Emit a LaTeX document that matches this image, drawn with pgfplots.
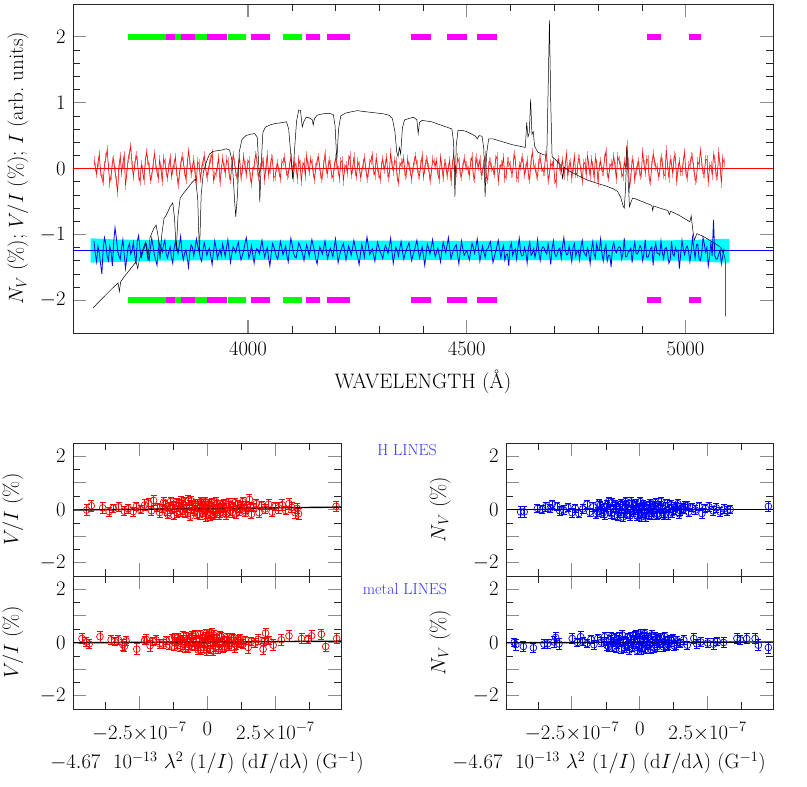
\documentclass[border=0pt]{standalone}
\usepackage{pgfplots}
\pgfplotsset{compat=1.18}
\usepackage{pgfplotstable}
\definecolor{pinkish}{rgb}{1,0.55,0.55}
\definecolor{myblue}{rgb}{0,0,0.95}
\definecolor{mycyan}{rgb}{0,1,1}
\definecolor{mygreen}{rgb}{0,1,0}
\definecolor{mymag}{rgb}{1,0,1}
\definecolor{txtblue}{rgb}{0.2,0.2,1}

\pgfplotstableread{
lam v n
3648 0.12 -1.10
3651 0.02 -1.30
3654 -0.08 -1.42
3657 0.09 -1.18
3660 0.21 -1.28
3663 -0.04 -1.45
3666 -0.15 -1.60
3669 -0.20 -1.22
3672 0.05 -1.05
3675 0.16 -1.15
3678 0.28 -1.33
3681 0.03 -1.40
3684 -0.22 -1.18
3687 -0.10 -1.27
3690 0.10 -1.48
3693 0.14 -1.12
3696 -0.05 -0.90
3699 -0.19 -1.05
3702 -0.36 -1.25
3705 0.05 -1.33
3708 0.18 -1.38
3711 -0.06 -1.20
3714 0.08 -1.08
3717 0.20 -1.30
3720 -0.25 -1.52
3723 -0.08 -1.36
3726 0.15 -1.20
3729 0.22 -1.14
3732 0.34 -1.30
3735 0.05 -1.25
3738 -0.12 -1.12
3741 0.04 -1.31
3744 0.20 -1.45
3747 0.12 -1.10
3750 -0.10 -1.02
3753 -0.20 -1.22
3756 0.06 -1.35
3759 -0.02 -1.28
3762 -0.18 -1.22
3765 0.10 -1.17
3768 0.24 -1.15
3771 0.13 -1.33
3774 0.02 -1.40
3777 -0.17 -1.21
3780 -0.12 -1.06
3783 0.06 -1.18
3786 0.22 -1.31
3789 0.08 -1.39
3792 -0.06 -1.47
3795 -0.15 -1.24
3798 0.14 -1.14
3801 -0.02 -1.20
3804 -0.20 -1.27
3807 0.15 -1.16
3810 0.09 -1.09
3813 -0.06 -1.30
3816 -0.14 -1.36
3819 0.02 -1.26
3822 0.17 -1.19
3825 -0.11 -1.35
3828 -0.03 -1.44
3831 0.08 -1.22
3834 0.17 -1.11
3837 -0.05 -1.18
3840 -0.24 -1.29
3843 -0.10 -1.17
3846 0.04 -1.03
3849 0.18 -1.26
3852 0.11 -1.39
3855 -0.04 -1.29
3858 -0.16 -1.24
3861 0.07 -1.35
3864 0.26 -1.50
3867 0.12 -1.28
3870 -0.08 -1.16
3873 0.01 -1.20
3876 0.13 -1.33
3879 -0.08 -1.21
3882 -0.19 -1.07
3885 0.10 -1.18
3888 0.07 -1.26
3891 -0.15 -1.36
3894 -0.02 -1.41
3897 0.11 -1.24
3900 0.19 -1.13
3903 0.03 -1.22
3906 -0.13 -1.32
3909 -0.03 -1.25
3912 0.08 -1.21
3915 0.14 -1.34
3918 0.23 -1.46
3921 -0.17 -1.27
3924 -0.11 -1.10
3927 -0.06 -1.21
3930 0.03 -1.37
3933 0.16 -1.29
3936 -0.21 -1.23
3939 -0.01 -1.33
3942 0.15 -1.15
3945 0.02 -1.24
3948 -0.07 -1.34
3951 0.13 -1.20
3954 0.10 -1.08
3957 -0.10 -1.26
3960 -0.17 -1.43
3963 0.05 -1.30
3966 0.20 -1.19
3969 0.09 -1.23
3972 -0.04 -1.28
3975 -0.16 -1.18
3978 0.06 -1.12
3981 0.15 -1.28
3984 -0.14 -1.39
3987 -0.02 -1.32
3990 0.18 -1.25
3993 0.04 -1.14
3996 -0.09 -1.05
3999 0.08 -1.20
4002 0.12 -1.36
4005 -0.13 -1.29
4008 -0.22 -1.17
4011 -0.04 -1.31
4014 0.05 -1.44
4017 0.20 -1.28
4020 0.16 -1.22
4023 -0.12 -1.24
4026 -0.06 -1.30
4029 0.01 -1.19
4032 0.09 -1.09
4035 0.11 -1.23
4038 -0.18 -1.35
4041 0.03 -1.27
4044 0.21 -1.20
4047 -0.09 -1.36
4050 -0.01 -1.48
4053 0.15 -1.30
4056 0.13 -1.14
4059 -0.14 -1.19
4062 -0.12 -1.27
4065 0.02 -1.34
4068 0.07 -1.38
4071 -0.06 -1.24
4074 -0.15 -1.11
4077 0.08 -1.20
4080 0.11 -1.31
4083 0.16 -1.25
4086 0.04 -1.18
4089 -0.11 -1.33
4092 -0.08 -1.42
4095 0.05 -1.22
4098 0.17 -1.06
4101 -0.02 -1.16
4104 -0.13 -1.29
4107 0.10 -1.34
4110 0.02 -1.36
4113 -0.16 -1.24
4116 0.14 -1.13
4119 0.06 -1.18
4122 -0.20 -1.24
4125 0.03 -1.31
4128 0.09 -1.40
4131 -0.12 -1.27
4134 0.19 -1.16
4137 0.05 -1.23
4140 -0.05 -1.33
4143 0.14 -1.20
4146 0.08 -1.08
4149 -0.07 -1.17
4152 -0.16 -1.26
4155 0.01 -1.38
4158 0.12 -1.45
4161 0.17 -1.30
4164 0.03 -1.19
4167 -0.15 -1.24
4170 -0.11 -1.30
4173 0.06 -1.20
4176 0.22 -1.10
4179 -0.02 -1.25
4182 -0.07 -1.37
4185 0.12 -1.28
4188 0.06 -1.21
4191 -0.09 -1.27
4194 -0.14 -1.34
4197 0.03 -1.20
4200 0.15 -1.07
4203 0.08 -1.25
4206 -0.03 -1.43
4209 -0.15 -1.33
4212 0.10 -1.25
4215 0.12 -1.19
4218 -0.19 -1.14
4221 0.00 -1.26
4224 0.05 -1.39
4227 -0.06 -1.28
4230 0.13 -1.18
4233 0.19 -1.24
4236 -0.09 -1.32
4239 -0.01 -1.21
4242 0.18 -1.09
4245 -0.04 -1.19
4248 -0.12 -1.28
4251 0.10 -1.36
4254 0.04 -1.46
4257 -0.13 -1.30
4260 -0.06 -1.15
4263 0.07 -1.24
4266 0.16 -1.35
4269 0.02 -1.18
4272 -0.15 -1.04
4275 -0.06 -1.17
4278 0.08 -1.31
4281 0.13 -1.27
4284 0.20 -1.22
4287 -0.03 -1.32
4290 -0.10 -1.41
4293 0.17 -1.26
4296 0.01 -1.12
4299 -0.08 -1.19
4302 -0.17 -1.27
4305 0.05 -1.31
4308 0.14 -1.37
4311 -0.02 -1.26
4314 0.07 -1.17
4317 0.16 -1.22
4320 -0.13 -1.29
4323 -0.07 -1.18
4326 0.24 -1.06
4329 0.05 -1.26
4332 -0.04 -1.44
4335 0.12 -1.31
4338 0.11 -1.20
4341 -0.14 -1.25
4344 -0.21 -1.33
4347 0.03 -1.21
4350 0.09 -1.11
4353 0.08 -1.25
4356 0.15 -1.38
4359 -0.11 -1.30
4362 -0.08 -1.24
4365 0.14 -1.18
4368 0.03 -1.13
4371 -0.05 -1.26
4374 -0.16 -1.40
4377 0.02 -1.32
4380 0.12 -1.26
4383 0.18 -1.17
4386 0.06 -1.09
4389 -0.09 -1.23
4392 -0.11 -1.36
4395 0.06 -1.28
4398 0.19 -1.19
4401 -0.12 -1.33
4404 -0.02 -1.47
4407 0.14 -1.30
4410 0.10 -1.15
4413 0.01 -1.22
4416 -0.18 -1.30
4419 -0.05 -1.19
4422 0.13 -1.08
4425 0.09 -1.24
4428 0.05 -1.34
4431 0.11 -1.27
4434 -0.09 -1.21
4437 -0.16 -1.31
4440 0.17 -1.42
4443 0.04 -1.26
4446 -0.14 -1.12
4449 0.07 -1.20
4452 0.08 -1.28
4455 -0.11 -1.17
4458 0.02 -1.05
4461 0.12 -1.22
4464 -0.19 -1.37
4467 0.06 -1.30
4470 0.22 -1.23
4473 -0.03 -1.19
4476 -0.06 -1.16
4479 0.16 -1.32
4482 0.11 -1.45
4485 -0.08 -1.27
4488 -0.12 -1.10
4491 0.02 -1.22
4494 0.15 -1.32
4497 0.05 -1.28
4500 0.04 -1.25
4503 -0.03 -1.32
4506 -0.10 -1.39
4509 0.09 -1.26
4512 0.18 -1.14
4515 -0.12 -1.20
4518 -0.15 -1.29
4521 0.16 -1.18
4524 0.07 -1.07
4527 0.03 -1.24
4530 0.13 -1.41
4533 -0.10 -1.29
4536 -0.05 -1.18
4539 0.06 -1.27
4542 0.20 -1.35
4545 -0.14 -1.23
4548 -0.17 -1.22
4551 0.11 -1.16
4554 0.09 -1.11
4557 0.02 -1.27
4560 -0.03 -1.43
4563 -0.08 -1.34
4566 0.14 -1.27
4569 0.18 -1.18
4572 -0.20 -1.09
4575 -0.02 -1.23
4578 0.06 -1.36
4581 0.04 -1.24
4584 0.16 -1.17
4587 -0.15 -1.39
4590 -0.11 -1.31
4593 0.10 -1.30
4596 0.10 -1.48
4599 0.04 -1.20
4602 -0.07 -1.13
4605 -0.06 -1.32
4608 0.21 -1.26
4611 0.12 -1.22
4614 -0.13 -1.38
4617 -0.15 -1.20
4620 0.05 -1.06
4623 0.03 -1.27
4626 0.17 -1.33
4629 0.08 -1.32
4632 -0.09 -1.20
4635 0.00 -1.28
4638 0.12 -1.44
4641 -0.10 -1.21
4644 -0.16 -1.12
4647 0.13 -1.32
4650 0.24 -1.29
4653 0.06 -1.22
4656 0.01 -1.35
4659 -0.09 -1.25
4662 -0.12 -1.08
4665 0.14 -1.29
4668 0.15 -1.40
4671 0.02 -1.23
4674 -0.04 -1.19
4677 -0.05 -1.21
4680 0.19 -1.27
4683 0.17 -1.30
4686 -0.18 -1.15
4689 -0.07 -1.28
4692 0.08 -1.46
4695 0.04 -1.22
4698 0.11 -1.10
4701 -0.16 -1.29
4704 -0.22 -1.34
4707 0.08 -1.30
4710 0.14 -1.23
4713 -0.03 -1.21
4716 0.03 -1.37
4719 0.12 -1.18
4722 -0.10 -1.05
4725 0.05 -1.24
4728 0.23 -1.31
4731 -0.12 -1.30
4734 0.06 -1.18
4737 0.09 -1.28
4740 -0.15 -1.42
4743 0.02 -1.20
4746 0.18 -1.14
4749 -0.08 -1.33
4752 -0.07 -1.26
4755 0.15 -1.24
4758 0.13 -1.39
4761 -0.05 -1.19
4764 -0.19 -1.09
4767 0.07 -1.26
4770 0.09 -1.30
4773 -0.10 -1.33
4776 0.20 -1.21
4779 0.05 -1.28
4782 -0.12 -1.45
4785 0.13 -1.23
4788 0.04 -1.11
4791 -0.14 -1.30
4794 0.16 -1.36
4797 0.08 -1.15
4800 -0.21 -1.24
4803 0.03 -1.24
4806 0.11 -1.07
4809 -0.04 -1.29
4812 -0.05 -1.41
4815 0.15 -1.24
4818 0.25 -1.16
4821 -0.07 -1.41
4824 -0.14 -1.32
4827 0.02 -1.32
4830 0.07 -1.50
4833 0.05 -1.20
4836 0.18 -1.13
4839 0.03 -1.24
4842 -0.16 -1.28
4845 0.18 -1.22
4848 0.12 -1.19
4851 0.05 -1.20
4854 -0.08 -1.38
4857 -0.12 -1.30
4860 0.10 -1.06
4863 0.02 -1.34
4866 0.36 -1.34
4869 0.09 -1.27
4872 -0.30 -1.25
4875 -0.14 -1.21
4878 0.14 -1.43
4881 0.07 -1.24
4884 -0.17 -1.12
4887 -0.03 -1.29
4890 0.05 -1.30
4893 0.10 -1.25
4896 -0.11 -1.17
4899 -0.08 -1.21
4902 0.26 -1.40
4905 0.06 -1.28
4908 -0.06 -1.08
4911 0.14 -1.34
4914 0.13 -1.35
4917 -0.16 -1.30
4920 -0.19 -1.22
4923 0.04 -1.19
4926 0.22 -1.47
4929 0.11 -1.23
4932 0.03 -1.14
4935 0.02 -1.29
4938 -0.12 -1.29
4941 -0.06 -1.32
4944 0.17 -1.10
4947 0.09 -1.27
4950 -0.09 -1.37
4953 -0.11 -1.22
4956 0.28 -1.20
4959 0.05 -1.30
4962 -0.15 -1.44
4965 0.13 -1.39
4968 0.08 -1.11
4971 -0.08 -1.30
4974 0.19 -1.33
4977 0.16 -1.20
4980 -0.20 -1.26
4983 0.01 -1.24
4986 0.11 -1.52
4989 -0.05 -1.30
4992 -0.04 -1.09
4995 0.12 -1.23
4998 0.24 -1.31
5001 -0.09 -1.21
5004 -0.13 -1.18
5007 0.04 -1.26
5010 0.06 -1.42
5013 0.18 -1.27
5016 0.16 -1.05
5019 0.02 -1.22
5022 -0.18 -1.36
5025 -0.15 -1.16
5028 0.10 -1.15
5031 0.06 -1.37
5034 0.27 -1.40
5037 0.11 -1.30
5040 -0.08 -1.05
5043 -0.07 -1.15
5046 0.14 -1.27
5049 0.14 -1.20
5052 -0.21 -1.48
5055 0.03 -1.34
5058 0.05 -1.12
5061 -0.10 -1.33
5064 0.20 -0.78
5067 0.15 -1.33
5070 -0.12 -1.38
5073 -0.10 -1.37
5076 0.25 -1.30
5079 0.03 -1.24
5082 -0.22 -1.45
5085 0.15 -1.33
5088 0.09 -1.22
}\noise

\pgfplotstableread{
x y e
-4.43 -0.02 0.2
-4.26 0.14 0.2
-3.84 0.06 0.2
-3.60 -0.08 0.16
-3.45 0.05 0.16
-3.25 0.10 0.16
-3.05 -0.06 0.16
-2.90 0.03 0.16
-2.72 -0.08 0.16
-2.60 0.12 0.16
-2.45 0.00 0.16
-2.30 0.17 0.2
-2.15 0.22 0.2
-2.05 -0.05 0.16
-1.97 0.34 0.2
-1.85 0.08 0.16
-1.75 -0.12 0.16
-1.65 0.05 0.16
-1.60 0.28 0.16
-1.55 0.20 0.16
-1.48 -0.05 0.16
-1.45 -0.18 0.16
-1.38 0.12 0.16
-1.35 0.30 0.16
-1.30 0.02 0.16
-1.25 0.15 0.16
-1.22 -0.22 0.16
-1.15 0.26 0.16
-1.12 -0.12 0.16
-1.08 0.10 0.16
-1.02 0.22 0.16
-1.00 -0.08 0.16
-0.95 0.32 0.16
-0.92 -0.02 0.16
-0.88 0.18 0.16
-0.82 -0.15 0.16
-0.80 0.30 0.16
-0.75 0.05 0.16
-0.72 -0.10 0.16
-0.70 0.36 0.16
-0.65 0.18 0.16
-0.62 -0.25 0.16
-0.58 0.32 0.16
-0.55 0.14 0.16
-0.50 0.00 0.16
-0.46 -0.06 0.16
-0.42 0.24 0.16
-0.38 0.16 0.16
-0.36 -0.18 0.16
-0.30 0.08 0.16
-0.28 -0.20 0.16
-0.24 0.30 0.16
-0.20 0.24 0.16
-0.18 -0.10 0.16
-0.14 0.02 0.16
-0.12 0.16 0.16
-0.08 0.30 0.16
-0.06 -0.28 0.16
-0.02 -0.16 0.16
0.00 0.05 0.16
0.04 0.14 0.16
0.06 0.22 0.16
0.10 -0.24 0.16
0.12 -0.14 0.16
0.16 0.26 0.16
0.18 0.10 0.16
0.22 0.00 0.16
0.25 -0.22 0.16
0.28 -0.12 0.16
0.32 0.28 0.16
0.36 0.18 0.16
0.40 0.02 0.16
0.44 -0.20 0.16
0.48 -0.12 0.16
0.52 0.08 0.16
0.55 0.18 0.16
0.60 0.24 0.16
0.62 0.06 0.16
0.68 -0.08 0.16
0.70 -0.20 0.16
0.78 0.25 0.16
0.82 0.14 0.16
0.86 -0.05 0.16
0.92 -0.12 0.16
0.95 0.12 0.16
1.02 0.26 0.16
1.05 -0.16 0.16
1.12 0.20 0.16
1.16 -0.06 0.16
1.20 0.04 0.16
1.26 0.16 0.16
1.30 0.30 0.16
1.38 -0.10 0.16
1.42 0.02 0.16
1.45 0.14 0.16
1.55 0.38 0.2
1.58 0.10 0.16
1.62 -0.18 0.16
1.70 0.08 0.16
1.80 0.22 0.16
1.90 -0.12 0.16
2.00 0.16 0.16
2.12 0.02 0.16
2.25 0.20 0.2
2.38 -0.10 0.16
2.50 0.12 0.16
2.62 0.06 0.2
2.75 0.18 0.2
2.88 -0.04 0.16
3.00 0.22 0.2
3.10 0.08 0.2
3.22 -0.12 0.2
3.30 0.04 0.2
3.35 -0.16 0.2
4.73 0.12 0.2
}\VIH

\pgfplotstableread{
x y e
-4.60 0.15 0.2
-4.45 0.02 0.16
-4.34 -0.06 0.16
-3.94 0.22 0.2
-3.53 0.10 0.16
-3.40 0.04 0.16
-3.26 0.10 0.16
-3.10 -0.08 0.2
-3.04 -0.14 0.2
-2.98 0.06 0.16
-2.59 -0.25 0.2
-2.30 0.08 0.16
-2.24 0.12 0.2
-2.10 -0.12 0.2
-2.00 0.05 0.16
-1.88 0.10 0.16
-1.75 -0.05 0.16
-1.63 -0.06 0.16
-1.50 0.08 0.16
-1.40 -0.10 0.16
-1.30 0.14 0.16
-1.22 -0.14 0.16
-1.20 0.20 0.16
-1.15 0.05 0.16
-1.10 -0.06 0.16
-1.08 0.18 0.16
-1.00 -0.18 0.16
-0.98 0.08 0.16
-0.92 0.10 0.16
-0.88 0.26 0.16
-0.85 -0.08 0.16
-0.80 -0.22 0.16
-0.78 0.22 0.16
-0.72 0.12 0.16
-0.70 -0.22 0.16
-0.64 -0.10 0.16
-0.62 0.04 0.16
-0.58 0.18 0.16
-0.55 0.26 0.16
-0.50 0.02 0.16
-0.48 -0.15 0.16
-0.44 0.30 0.16
-0.40 0.12 0.16
-0.36 -0.12 0.16
-0.34 -0.28 0.16
-0.30 0.10 0.16
-0.27 0.30 0.16
-0.24 -0.30 0.16
-0.20 0.00 0.16
-0.17 0.16 0.16
-0.14 -0.20 0.16
-0.10 -0.04 0.16
-0.08 0.24 0.16
-0.05 0.34 0.16
-0.02 -0.32 0.16
0.00 -0.20 0.16
0.03 0.12 0.16
0.05 0.22 0.16
0.08 0.32 0.16
0.11 -0.06 0.16
0.13 -0.25 0.16
0.16 0.36 0.16
0.18 0.06 0.16
0.21 -0.32 0.16
0.24 0.28 0.16
0.27 0.14 0.16
0.30 -0.18 0.16
0.33 0.02 0.16
0.36 0.16 0.16
0.40 -0.24 0.16
0.43 -0.08 0.16
0.46 0.26 0.16
0.50 0.22 0.16
0.54 0.00 0.16
0.57 -0.22 0.16
0.62 -0.16 0.16
0.64 0.08 0.16
0.70 0.06 0.16
0.72 0.18 0.16
0.78 -0.06 0.16
0.80 -0.14 0.16
0.88 0.02 0.16
0.90 0.20 0.16
0.96 0.15 0.16
1.00 -0.20 0.16
1.05 -0.10 0.16
1.10 0.02 0.16
1.15 0.10 0.16
1.20 0.14 0.16
1.25 -0.04 0.16
1.31 -0.06 0.16
1.40 0.08 0.16
1.50 -0.19 0.2
1.62 0.05 0.16
1.75 -0.02 0.16
1.86 0.12 0.2
2.05 -0.25 0.2
2.10 0.05 0.16
2.14 0.35 0.2
2.25 0.08 0.16
2.42 -0.10 0.2
2.72 0.10 0.2
3.00 0.25 0.2
3.46 0.15 0.2
3.70 0.12 0.16
3.83 0.25 0.2
4.19 0.31 0.2
4.35 -0.15 0.2
4.75 0.15 0.2
}\VIM

\pgfplotstableread{
x y e
-4.39 -0.09 0.2
-4.26 -0.09 0.2
-3.77 0.04 0.16
-3.60 0.00 0.16
-3.47 0.10 0.16
-3.30 0.05 0.16
-3.23 0.20 0.16
-3.05 0.12 0.16
-2.95 -0.05 0.16
-2.80 -0.02 0.16
-2.65 0.08 0.16
-2.50 -0.12 0.16
-2.38 0.05 0.16
-2.25 -0.15 0.16
-2.10 0.02 0.16
-1.95 0.20 0.16
-1.85 -0.10 0.16
-1.72 0.10 0.16
-1.60 -0.18 0.16
-1.55 -0.08 0.16
-1.50 0.24 0.16
-1.45 0.16 0.16
-1.40 0.02 0.16
-1.35 -0.12 0.16
-1.30 -0.20 0.16
-1.25 0.08 0.16
-1.20 0.18 0.16
-1.15 0.30 0.16
-1.10 -0.05 0.16
-1.05 -0.16 0.16
-1.02 0.26 0.16
-0.98 0.04 0.16
-0.94 -0.22 0.16
-0.90 0.20 0.16
-0.86 0.10 0.16
-0.82 -0.26 0.16
-0.78 -0.12 0.16
-0.74 0.02 0.16
-0.70 0.22 0.16
-0.66 0.14 0.16
-0.62 -0.28 0.16
-0.58 -0.14 0.16
-0.55 0.05 0.16
-0.52 0.30 0.16
-0.48 0.18 0.16
-0.44 0.00 0.16
-0.40 -0.16 0.16
-0.36 -0.24 0.16
-0.32 0.28 0.16
-0.28 0.18 0.16
-0.25 -0.08 0.16
-0.21 -0.02 0.16
-0.18 0.14 0.16
-0.14 0.24 0.16
-0.10 -0.25 0.16
-0.07 -0.18 0.16
-0.04 0.08 0.16
0.00 0.04 0.16
0.02 0.30 0.16
0.05 -0.28 0.16
0.08 -0.15 0.16
0.12 0.20 0.16
0.15 0.12 0.16
0.18 0.00 0.16
0.22 -0.28 0.16
0.26 -0.16 0.16
0.30 0.04 0.16
0.34 0.14 0.16
0.38 0.22 0.16
0.42 -0.22 0.16
0.46 -0.10 0.16
0.50 0.02 0.16
0.54 0.16 0.16
0.58 0.26 0.16
0.62 -0.22 0.16
0.66 -0.16 0.16
0.70 0.06 0.16
0.74 0.14 0.16
0.78 0.30 0.16
0.82 0.00 0.16
0.86 -0.12 0.16
0.90 -0.22 0.16
0.95 0.10 0.16
1.00 0.24 0.16
1.05 -0.20 0.16
1.10 0.04 0.16
1.15 0.18 0.16
1.20 -0.12 0.16
1.25 -0.04 0.16
1.30 0.10 0.16
1.35 0.12 0.16
1.40 0.22 0.16
1.45 -0.16 0.16
1.50 -0.06 0.16
1.55 0.06 0.16
1.62 0.02 0.16
1.68 0.16 0.16
1.75 0.14 0.16
1.80 -0.10 0.16
1.92 0.08 0.16
2.05 -0.02 0.16
2.18 0.12 0.16
2.29 -0.15 0.2
2.42 0.04 0.16
2.55 0.10 0.16
2.70 -0.05 0.16
2.82 0.06 0.16
2.96 -0.09 0.16
3.10 0.02 0.16
3.22 -0.06 0.16
3.33 0.00 0.16
4.74 0.12 0.2
}\NVH

\pgfplotstableread{
x y e
-4.63 0.00 0.16
-4.57 -0.08 0.2
-4.29 -0.15 0.2
-3.92 -0.20 0.16
-3.53 -0.06 0.16
-3.40 -0.05 0.16
-3.16 0.02 0.2
-3.10 0.19 0.2
-2.98 -0.05 0.2
-2.49 0.15 0.2
-2.30 0.00 0.16
-2.18 0.22 0.2
-2.10 0.05 0.16
-1.95 -0.04 0.16
-1.80 0.12 0.16
-1.69 -0.08 0.16
-1.55 0.15 0.16
-1.42 0.02 0.16
-1.30 0.22 0.16
-1.25 0.04 0.16
-1.20 -0.12 0.16
-1.15 -0.16 0.16
-1.10 0.10 0.16
-1.05 0.22 0.16
-1.00 -0.18 0.16
-0.96 0.02 0.16
-0.92 0.18 0.16
-0.88 -0.22 0.16
-0.84 -0.06 0.16
-0.80 0.12 0.16
-0.76 0.24 0.16
-0.72 0.00 0.16
-0.68 -0.24 0.16
-0.64 0.28 0.16
-0.60 0.08 0.16
-0.56 -0.20 0.16
-0.52 -0.14 0.16
-0.49 0.04 0.16
-0.45 0.20 0.16
-0.42 -0.10 0.16
-0.38 -0.28 0.16
-0.34 0.22 0.16
-0.30 0.12 0.16
-0.27 -0.18 0.16
-0.23 -0.06 0.16
-0.20 0.10 0.16
-0.16 0.26 0.16
-0.13 0.30 0.16
-0.09 -0.30 0.16
-0.06 -0.14 0.16
-0.03 0.08 0.16
0.00 0.20 0.16
0.03 0.32 0.16
0.06 -0.28 0.16
0.09 -0.18 0.16
0.12 0.06 0.16
0.15 0.22 0.16
0.18 0.34 0.16
0.22 -0.26 0.16
0.25 -0.10 0.16
0.29 0.10 0.16
0.32 0.20 0.16
0.36 -0.10 0.16
0.40 -0.26 0.16
0.44 0.28 0.16
0.48 0.06 0.16
0.52 -0.20 0.16
0.56 0.24 0.16
0.60 0.14 0.16
0.64 -0.16 0.16
0.68 -0.04 0.16
0.72 0.10 0.16
0.77 0.20 0.16
0.82 -0.04 0.16
0.86 -0.16 0.16
0.92 0.22 0.16
0.95 0.08 0.16
1.00 -0.14 0.16
1.05 -0.08 0.16
1.10 0.02 0.16
1.15 0.12 0.16
1.22 0.16 0.16
1.26 -0.12 0.16
1.34 -0.08 0.16
1.38 0.06 0.16
1.50 -0.04 0.16
1.62 0.10 0.16
1.75 -0.10 0.16
1.99 0.15 0.2
2.10 -0.05 0.16
2.25 0.02 0.16
2.50 -0.02 0.16
2.72 -0.06 0.2
2.85 0.05 0.16
3.09 0.00 0.2
3.58 0.15 0.2
3.70 0.10 0.16
3.94 0.15 0.2
4.25 0.15 0.2
4.37 -0.10 0.2
4.74 -0.19 0.2
}\NVM

\pgfplotsset{
  myax/.style={scale only axis, anchor=south west,
    axis line style={black!85, line width=0.8bp},
    tick align=inside, xtick pos=both, ytick pos=both,
    xticklabel pos=lower, yticklabel pos=left,
    major tick length=13bp, minor tick length=7bp,
    major tick style={black!45, line width=1.1bp},
    minor tick style={black!85, line width=0.5bp},
    tick label style={font=\fontsize{20}{20}\selectfont},
    label style={font=\fontsize{21}{21}\selectfont},
    /pgf/number format/1000 sep={},
    xticklabel shift=6bp, yticklabel shift=4bp},
  botax/.style={myax, width=268bp, height=133bp,
    xmin=-4.93, xmax=4.91, ymin=-2.5, ymax=2.5,
    xtick={-2.5,0,2.5}, minor xtick={-3.75,-1.25,1.25,3.75},
    ytick={-2,-1,0,1,2}, yticklabels={$-2$,,$0$,,$2$},
    minor ytick={-2.5,-1.5,-0.5,0.5,1.5,2.5},
    xticklabel shift=10bp},
  resid/.style={only marks, mark=o, mark size=3.4bp,
    mark options={line width=0.7bp},
    error bars/.cd, y dir=both, y explicit,
    error mark=-, error bar style={line width=0.7bp},
    error mark options={rotate=90, mark size=3bp, line width=0.7bp}}
}

\begin{document}
\begin{tikzpicture}
\useasboundingbox (0,0) rectangle (807bp,787bp);

% ---------------- top panel ----------------
\begin{axis}[myax, at={(73bp,454bp)}, width=700bp, height=329bp,
  xmin=3600, xmax=5200, ymin=-2.5, ymax=2.5,
  xtick={4000,4500,5000}, minor x tick num=4,
  ytick={-2,-1,0,1,2}, minor y tick num=4,
  xlabel={WAVELENGTH (\AA)},
  ylabel={$N_V$ (\%); $V/I$ (\%); $I$ (arb.\ units)},
  xlabel style={at={(axis description cs:0.5,-0.149)}, anchor=center},
  ylabel style={at={(axis description cs:-0.0786,0.5)}, anchor=center}]
% cyan error band of N_V
\addplot[fill=mycyan, draw=none] coordinates {
 (3640,-1.06) (3700,-1.08) (3800,-1.09) (4000,-1.09) (4500,-1.10)
 (5000,-1.09) (5080,-1.07) (5100,-1.07) (5100,-1.43) (5080,-1.43)
 (5000,-1.40) (4500,-1.39) (4000,-1.39) (3800,-1.40) (3700,-1.42) (3640,-1.43)} -- cycle;
% V/I with error bars
\addplot[pinkish, line width=0.5bp, forget plot,
  error bars/.cd, y dir=both, y fixed=0.07, error mark=none,
  error bar style={pinkish, line width=0.7bp}] table[x=lam, y=v] {\noise};
\addplot[red, line width=0.5bp] table[x=lam, y=v] {\noise};
\addplot[red, line width=0.5bp] coordinates {(3600,0) (5200,0)};
% N_V
\addplot[myblue, line width=0.8bp] table[x=lam, y=n] {\noise};
\addplot[myblue, line width=0.5bp] coordinates {(3600,-1.25) (5200,-1.25)};
% Stokes I
\addplot[black, line width=0.5bp] coordinates {
(3646,-2.12) (3660,-2.02) (3675,-1.92) (3690,-1.82) (3703,-1.74) (3706,-1.87) (3709,-1.72)
(3720,-1.62) (3732,-1.52) (3744,-1.42) (3748,-1.52) (3752,-1.38) (3760,-1.22) (3766,-1.12)
(3771,-1.38) (3776,-1.05) (3784,-0.92) (3790,-0.86) (3795,-1.05) (3799,-1.38) (3803,-1.0)
(3808,-0.76) (3814,-0.70) (3822,-0.58) (3828,-0.52) (3832,-0.75) (3836,-1.25) (3840,-0.72)
(3845,-0.45) (3852,-0.38) (3862,-0.30) (3871,-0.22) (3880,-0.16) (3885,-0.45) (3889,-1.32)
(3893,-0.40) (3898,-0.05) (3905,0.10) (3912,0.22) (3920,0.26) (3930,0.27) (3940,0.28)
(3950,0.30) (3958,0.28) (3964,0.10) (3970,-0.55) (3972,-0.73) (3976,-0.40) (3980,0.25)
(3986,0.44) (3995,0.50) (4005,0.52) (4015,0.53) (4021,0.48) (4025,0.0) (4027,-0.51)
(4030,0.05) (4034,0.55) (4040,0.63) (4050,0.66) (4060,0.68) (4070,0.69) (4080,0.70)
(4088,0.71) (4093,0.60) (4098,0.20) (4102,-0.16) (4106,0.25) (4111,0.72) (4116,0.89)
(4120,0.88) (4124,0.63) (4128,0.72) (4133,0.78) (4140,0.77) (4147,0.74) (4149,0.66)
(4152,0.76) (4158,0.81) (4170,0.83) (4185,0.84) (4195,0.82) (4199,0.65) (4203,0.12)
(4207,0.60) (4212,0.80) (4222,0.84) (4235,0.86) (4250,0.88) (4260,0.87) (4272,0.86)
(4285,0.85) (4298,0.84) (4310,0.83) (4322,0.81) (4330,0.76) (4336,0.55) (4340,0.25)
(4343,0.18) (4346,0.32) (4349,0.22) (4353,0.62) (4358,0.74) (4368,0.76) (4378,0.78)
(4386,0.74) (4389,0.53) (4392,0.70) (4398,0.73) (4410,0.72) (4420,0.71) (4432,0.68)
(4445,0.65) (4458,0.62) (4466,0.60) (4470,0.40) (4473,-0.43) (4476,0.35) (4480,0.58)
(4490,0.58) (4500,0.56) (4512,0.52) (4520,0.49) (4524,0.45) (4528,0.50) (4535,0.49)
(4539,0.30) (4542,-0.43) (4545,0.20) (4550,0.45) (4560,0.45) (4575,0.42) (4590,0.39)
(4605,0.36) (4620,0.34) (4634,0.32) (4637,0.70) (4640,0.48) (4643,0.55) (4646,1.05)
(4649,0.52) (4652,0.56) (4655,0.34) (4662,0.25) (4675,0.21) (4683,0.20) (4686,1.2)
(4689,2.25) (4692,1.0) (4695,0.18) (4705,0.12) (4715,0.05) (4719,-0.15) (4722,0.02)
(4735,-0.04) (4755,-0.11) (4777,-0.18) (4800,-0.23) (4820,-0.27) (4835,-0.31) (4845,-0.35)
(4852,-0.44) (4857,-0.56) (4860,-0.60) (4863,-0.30) (4866,0.33) (4869,-0.20) (4872,-0.58)
(4875,-0.52) (4879,-0.45) (4885,-0.46) (4900,-0.50) (4915,-0.54) (4923,-0.56) (4925,-0.64)
(4927,-0.57) (4945,-0.61) (4960,-0.64) (4963,-0.70) (4966,-0.65) (4985,-0.71) (5000,-0.77)
(5010,-0.81) (5013,-0.72) (5017,-0.95) (5020,-1.09) (5026,-0.99) (5040,-1.03) (5055,-1.09)
(5070,-1.15) (5081,-1.20) (5089,-1.33) (5091,-1.40) (5092,-2.25)};
% line masks
\addplot[mymag, line width=6bp, unbounded coords=jump] coordinates {
 (3812,2) (3879,2) (nan,nan) (3907,2) (3952,2) (nan,nan) (4006,2) (4051,2) (nan,nan)
 (4133,2) (4165,2) (nan,nan) (4181,2) (4234,2) (nan,nan) (4372,2) (4419,2) (nan,nan)
 (4455,2) (4500,2) (nan,nan) (4524,2) (4569,2) (nan,nan) (4912,2) (4943,2) (nan,nan)
 (5009,2) (5035,2)};
\addplot[mymag, line width=6bp, unbounded coords=jump] coordinates {
 (3812,-2) (3879,-2) (nan,nan) (3907,-2) (3952,-2) (nan,nan) (4006,-2) (4051,-2) (nan,nan)
 (4133,-2) (4165,-2) (nan,nan) (4181,-2) (4234,-2) (nan,nan) (4372,-2) (4419,-2) (nan,nan)
 (4455,-2) (4500,-2) (nan,nan) (4524,-2) (4569,-2) (nan,nan) (4912,-2) (4943,-2) (nan,nan)
 (5009,-2) (5035,-2)};
\addplot[mygreen, line width=6bp, unbounded coords=jump] coordinates {
 (3726,2) (3812,2) (nan,nan) (3834,2) (3847,2) (nan,nan) (3879,2) (3907,2) (nan,nan)
 (3955,2) (3996,2) (nan,nan) (4079,2) (4124,2)};
\addplot[mygreen, line width=6bp, unbounded coords=jump] coordinates {
 (3726,-2) (3812,-2) (nan,nan) (3834,-2) (3847,-2) (nan,nan) (3879,-2) (3907,-2) (nan,nan)
 (3955,-2) (3996,-2) (nan,nan) (4079,-2) (4124,-2)};
\end{axis}

% ---------------- bottom left ----------------
\begin{axis}[botax, at={(73bp,211bp)}, xticklabels={},
  ylabel={$V/I$ (\%)},
  ylabel style={at={(axis description cs:-0.224,0.5)}, anchor=center}]
\addplot[red, resid, error bar style={red}] table[x=x, y=y, y error=e] {\VIH};
\addplot[black, line width=1.4bp] coordinates {(-4.93,-0.02) (4.91,0.09)};
\end{axis}
\begin{axis}[botax, at={(73bp,78bp)},
  xticklabels={$-2.5{\times}10^{-7}$,$0$,$2.5{\times}10^{-7}$},
  xlabel={$-4.67\ \ 10^{-13}\ \lambda^2\ (1/I)\ (\mathrm{d}I/\mathrm{d}\lambda)\ (\mathrm{G}^{-1})$},
  xlabel style={at={(axis description cs:0.5,-0.405)}, anchor=center},
  ylabel={$V/I$ (\%)},
  ylabel style={at={(axis description cs:-0.224,0.5)}, anchor=center}]
\addplot[red, resid, error bar style={red}] table[x=x, y=y, y error=e] {\VIM};
\addplot[black, line width=1.4bp] coordinates {(-4.93,-0.01) (4.91,0.05)};
\end{axis}

% ---------------- bottom right ----------------
\begin{axis}[botax, at={(506bp,211bp)}, width=267bp, xticklabels={},
  ylabel={$N_V$ (\%)},
  ylabel style={at={(axis description cs:-0.247,0.5)}, anchor=center}]
\addplot[blue, resid, error bar style={blue}] table[x=x, y=y, y error=e] {\NVH};
\addplot[black, line width=1.4bp] coordinates {(-4.93,0.01) (4.91,0.01)};
\end{axis}
\begin{axis}[botax, at={(506bp,78bp)}, width=267bp,
  xticklabels={$-2.5{\times}10^{-7}$,$0$,$2.5{\times}10^{-7}$},
  xlabel={$-4.67\ \ 10^{-13}\ \lambda^2\ (1/I)\ (\mathrm{d}I/\mathrm{d}\lambda)\ (\mathrm{G}^{-1})$},
  xlabel style={at={(axis description cs:0.386,-0.405)}, anchor=center},
  ylabel={$N_V$ (\%)},
  ylabel style={at={(axis description cs:-0.247,0.5)}, anchor=center}]
\addplot[blue, resid, error bar style={blue}] table[x=x, y=y, y error=e] {\NVM};
\addplot[black, line width=1.4bp] coordinates {(-4.93,-0.01) (4.91,0.02)};
\end{axis}

\node[text=txtblue, font=\fontsize{16}{16}\selectfont] at (407bp,337bp) {H LINES};
\node[text=txtblue, font=\fontsize{16}{16}\selectfont] at (405bp,198bp) {metal LINES};
\end{tikzpicture}
\end{document}
